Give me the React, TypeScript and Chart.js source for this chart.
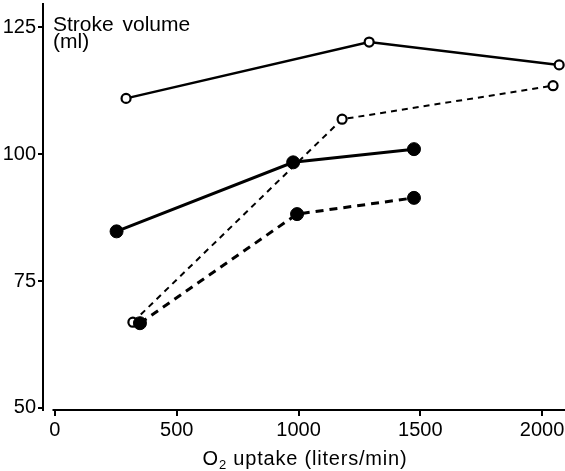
import React, { useEffect, useRef } from "react";
import { Chart, registerables } from "chart.js";

Chart.register(...registerables);

const xTicks = [0, 500, 1000, 1500, 2000];
const yTicks = [50, 75, 100, 125];

const openSolidX = [292, 1290, 2070];
const openSolidY = [111.0, 122.1, 117.6];

const openDashedX = [320, 1179, 2045];
const openDashedY = [66.9, 106.9, 113.5];

const filledSolidX = [253, 978, 1474];
const filledSolidY = [84.8, 98.4, 101.0];

const filledDashedX = [349, 994, 1474];
const filledDashedY = [66.7, 88.2, 91.4];

const yLabelLines = ["Stroke volume", "(ml)"];
const xTitleMain = "O";
const xTitleSub = "2";
const xTitleRest = " uptake (liters/min)";

const toPts = (xs: number[], ys: number[]) => xs.map((x, i) => ({ x, y: ys[i] }));

const TEXT_FONT = "'Liberation Sans', Arial, sans-serif";
const NUM_FONT = "'Liberation Sans Narrow', 'Liberation Sans', Arial, sans-serif";

const zeroPad = (s: any) => {
  s.paddingTop = 0;
  s.paddingBottom = 0;
  s.paddingLeft = 0;
  s.paddingRight = 0;
};

const decorPlugin = {
  id: "decor",
  afterDraw(chart: any) {
    const { ctx, chartArea, scales } = chart;
    const xs = scales.x;
    ctx.save();
    // x axis line (detached from y axis)
    ctx.strokeStyle = "#000";
    ctx.lineWidth = 2;
    ctx.beginPath();
    ctx.moveTo(xs.getPixelForValue(-10), chartArea.bottom);
    ctx.lineTo(chartArea.right, chartArea.bottom);
    ctx.stroke();

    // y label inside the plot
    ctx.fillStyle = "#000";
    ctx.font = `21px ${TEXT_FONT}`;
    ctx.textAlign = "left";
    ctx.textBaseline = "alphabetic";
    try { (ctx as any).wordSpacing = "3px"; } catch (e) {}
    ctx.fillText(yLabelLines[0], chartArea.left + 10, chartArea.top + 27);
    ctx.fillText(yLabelLines[1], chartArea.left + 10, chartArea.top + 44);
    try { (ctx as any).wordSpacing = "0px"; } catch (e) {}

    // x title with subscript
    try { (ctx as any).letterSpacing = "0.8px"; } catch (e) {}
    ctx.font = `20px ${TEXT_FONT}`;
    const wMain = ctx.measureText(xTitleMain).width;
    const wRest = ctx.measureText(xTitleRest).width;
    ctx.font = `13px ${TEXT_FONT}`;
    const wSub = ctx.measureText(xTitleSub).width;
    const total = wMain + wSub + wRest;
    const cx = (chartArea.left + chartArea.right) / 2 + 1;
    let x0 = cx - total / 2;
    const base = chartArea.bottom + 55;
    ctx.font = `20px ${TEXT_FONT}`;
    ctx.fillText(xTitleMain, x0, base);
    x0 += wMain;
    ctx.font = `13px ${TEXT_FONT}`;
    ctx.fillText(xTitleSub, x0, base + 4);
    x0 += wSub;
    ctx.font = `20px ${TEXT_FONT}`;
    ctx.fillText(xTitleRest, x0, base);
    ctx.restore();
  },
};

export default function App() {
  const ref = useRef<HTMLCanvasElement | null>(null);

  useEffect(() => {
    if (!ref.current) return;
    const chart = new Chart(ref.current, {
      type: "line",
      data: {
        datasets: [
          {
            label: "filled dashed",
            data: toPts(filledDashedX, filledDashedY),
            borderColor: "#000",
            borderWidth: 3,
            borderDash: [8, 6],
            pointRadius: 6.5,
            pointBackgroundColor: "#000",
            pointBorderColor: "#000",
            pointBorderWidth: 1,
            fill: false,
            tension: 0,
          },
          {
            label: "filled solid",
            data: toPts(filledSolidX, filledSolidY),
            borderColor: "#000",
            borderWidth: 3,
            pointRadius: 6.5,
            pointBackgroundColor: "#000",
            pointBorderColor: "#000",
            pointBorderWidth: 1,
            fill: false,
            tension: 0,
          },
          {
            label: "open dashed",
            data: toPts(openDashedX, openDashedY),
            borderColor: "#000",
            borderWidth: 2,
            borderDash: [6, 5],
            pointRadius: 4.5,
            pointBackgroundColor: "#fff",
            pointBorderColor: "#000",
            pointBorderWidth: 2.2,
            fill: false,
            tension: 0,
          },
          {
            label: "open solid",
            data: toPts(openSolidX, openSolidY),
            borderColor: "#000",
            borderWidth: 2.5,
            pointRadius: 4.5,
            pointBackgroundColor: "#fff",
            pointBorderColor: "#000",
            pointBorderWidth: 2.2,
            fill: false,
            tension: 0,
          },
        ],
      },
      options: {
        animation: false,
        responsive: false,
        devicePixelRatio: 1,
        clip: false as any,
        layout: { autoPadding: false, padding: { left: 0, right: 0, top: 4, bottom: 0 } },
        plugins: {
          legend: { display: false },
          tooltip: { enabled: false },
          title: { display: false },
        },
        scales: {
          x: {
            type: "linear",
            min: -49,
            max: 2094,
            afterBuildTicks: (s: any) => {
              s.ticks = xTicks.map((v) => ({ value: v }));
            },
            afterFit: (s: any) => {
              s.height = 61;
              zeroPad(s);
            },
            grid: {
              drawOnChartArea: false,
              drawTicks: true,
              tickLength: 6,
              color: "#000",
              lineWidth: 2,
            },
            border: { display: false },
            ticks: {
              color: "#000",
              padding: 2,
              maxRotation: 0,
              font: { family: NUM_FONT, size: 20 },
              callback: (v: any) => String(v),
            },
          },
          y: {
            type: "linear",
            min: 49.6,
            max: 129.6,
            afterBuildTicks: (s: any) => {
              s.ticks = yTicks.map((v) => ({ value: v }));
            },
            afterFit: (s: any) => {
              s.width = 43;
              zeroPad(s);
            },
            grid: {
              drawOnChartArea: false,
              drawTicks: true,
              tickLength: 5,
              color: "#000",
              lineWidth: 2,
            },
            border: { display: true, color: "#000", width: 2 },
            ticks: {
              color: "#000",
              padding: 2,
              font: { family: NUM_FONT, size: 20 },
              callback: (v: any) => String(v),
            },
          },
        },
      },
      plugins: [decorPlugin],
    } as any);
    return () => chart.destroy();
  }, []);

  return (
    <div style={{ position: "fixed", left: 0, top: 0, width: 565, height: 471, background: "#fff" }}>
      <canvas ref={ref} width={565} height={471} style={{ display: "block" }} />
    </div>
  );
}
